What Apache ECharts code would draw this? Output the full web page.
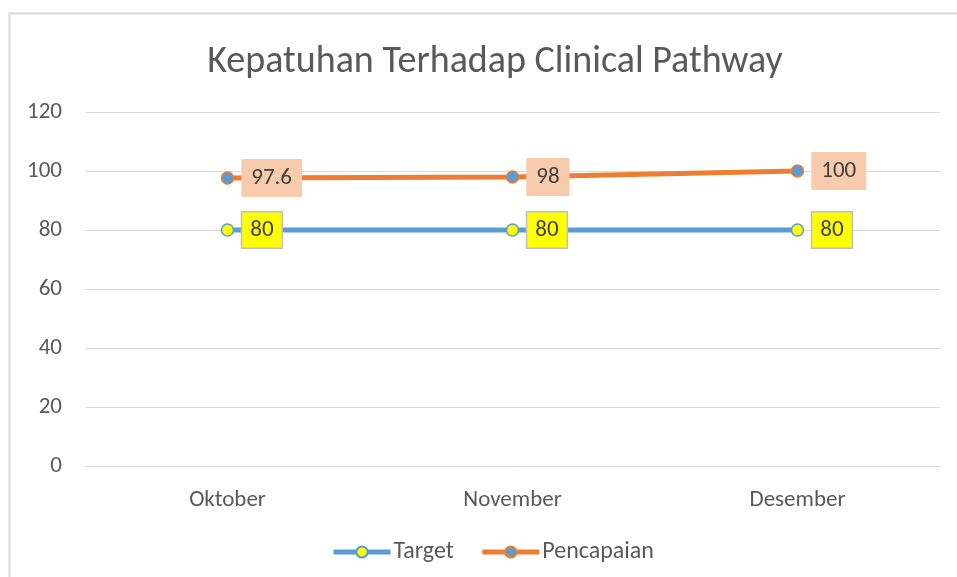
<!DOCTYPE html>
<html>
<head>
<meta charset="utf-8">
<script src="https://cdn.jsdelivr.net/npm/echarts@6/dist/echarts.min.js"></script>
<style>
  html, body { margin: 0; padding: 0; background: #fff; }
  #chart { width: 957px; height: 577px; }
</style>
</head>
<body>
<div id="chart"></div>
<script>
// data
var months = ['Oktober', 'November', 'Desember'];
var target = [80, 80, 80];
var pencapaian = [97.6, 98, 100];
var yTicks = [0, 20, 40, 60, 80, 100, 120];

var chart = echarts.init(document.getElementById('chart'));
var font = 'Carlito, Calibri, "Open Sans", "DejaVu Sans", sans-serif';

var option = {
    animation: false,
    textStyle: { fontFamily: font },
    title: {
        text: 'Kepatuhan Terhadap Clinical Pathway',
        left: 490,
        textAlign: 'center',
        top: 38,
        textStyle: { fontSize: 38, fontWeight: 'normal', color: '#595959', fontFamily: font }
    },
    graphic: [{
        type: 'rect',
        shape: { x: 9.5, y: 13.5, width: 1000, height: 600 },
        style: { fill: 'none', stroke: '#d9d9d9', lineWidth: 2 },
        silent: true
    }],
    legend: {
        bottom: 8,
        left: 326,
        itemWidth: 57,
        itemHeight: 14,
        itemGap: 26,
        textStyle: { fontSize: 24, color: '#595959', padding: [0, 0, 0, -2] },
        data: [
            { name: 'Target', lineStyle: { width: 5 } },
            { name: 'Pencapaian', lineStyle: { width: 5 } }
        ]
    },
    grid: { left: 85, right: 17, top: 112, bottom: 111 },
    xAxis: {
        type: 'category',
        data: months,
        boundaryGap: true,
        axisLine: { lineStyle: { color: '#d9d9d9', width: 1 } },
        axisTick: { show: false },
        axisLabel: { fontSize: 23, color: '#595959', margin: 23 }
    },
    yAxis: {
        type: 'value',
        min: yTicks[0],
        max: yTicks[yTicks.length - 1],
        interval: 20,
        axisLine: { show: false },
        axisTick: { show: false },
        axisLabel: { fontSize: 23, color: '#595959', margin: 23 },
        splitLine: { lineStyle: { color: '#d9d9d9', width: 1 } }
    },
    series: [
        {
            name: 'Target',
            type: 'line',
            data: target,
            symbol: 'circle',
            symbolSize: 12,
            lineStyle: { color: '#5b9bd5', width: 5 },
            itemStyle: { color: '#ffff00', borderColor: '#5b9bd5', borderWidth: 1.5 },
            label: {
                show: true,
                position: 'right',
                distance: 8,
                fontSize: 23,
                color: '#404040',
                backgroundColor: '#ffff00',
                borderColor: '#bfbfbf',
                borderWidth: 1.5,
                padding: [7, 8, 5, 8]
            }
        },
        {
            name: 'Pencapaian',
            type: 'line',
            data: pencapaian,
            symbol: 'circle',
            symbolSize: 12,
            lineStyle: { color: '#ed7d31', width: 5 },
            itemStyle: { color: '#5b9bd5', borderColor: '#ed7d31', borderWidth: 1.5 },
            label: {
                show: true,
                position: 'right',
                distance: 7,
                fontSize: 23,
                color: '#404040',
                backgroundColor: '#f8cbad',
                padding: [9, 10, 6, 10]
            }
        }
    ]
};
chart.setOption(option);
</script>
</body>
</html>
